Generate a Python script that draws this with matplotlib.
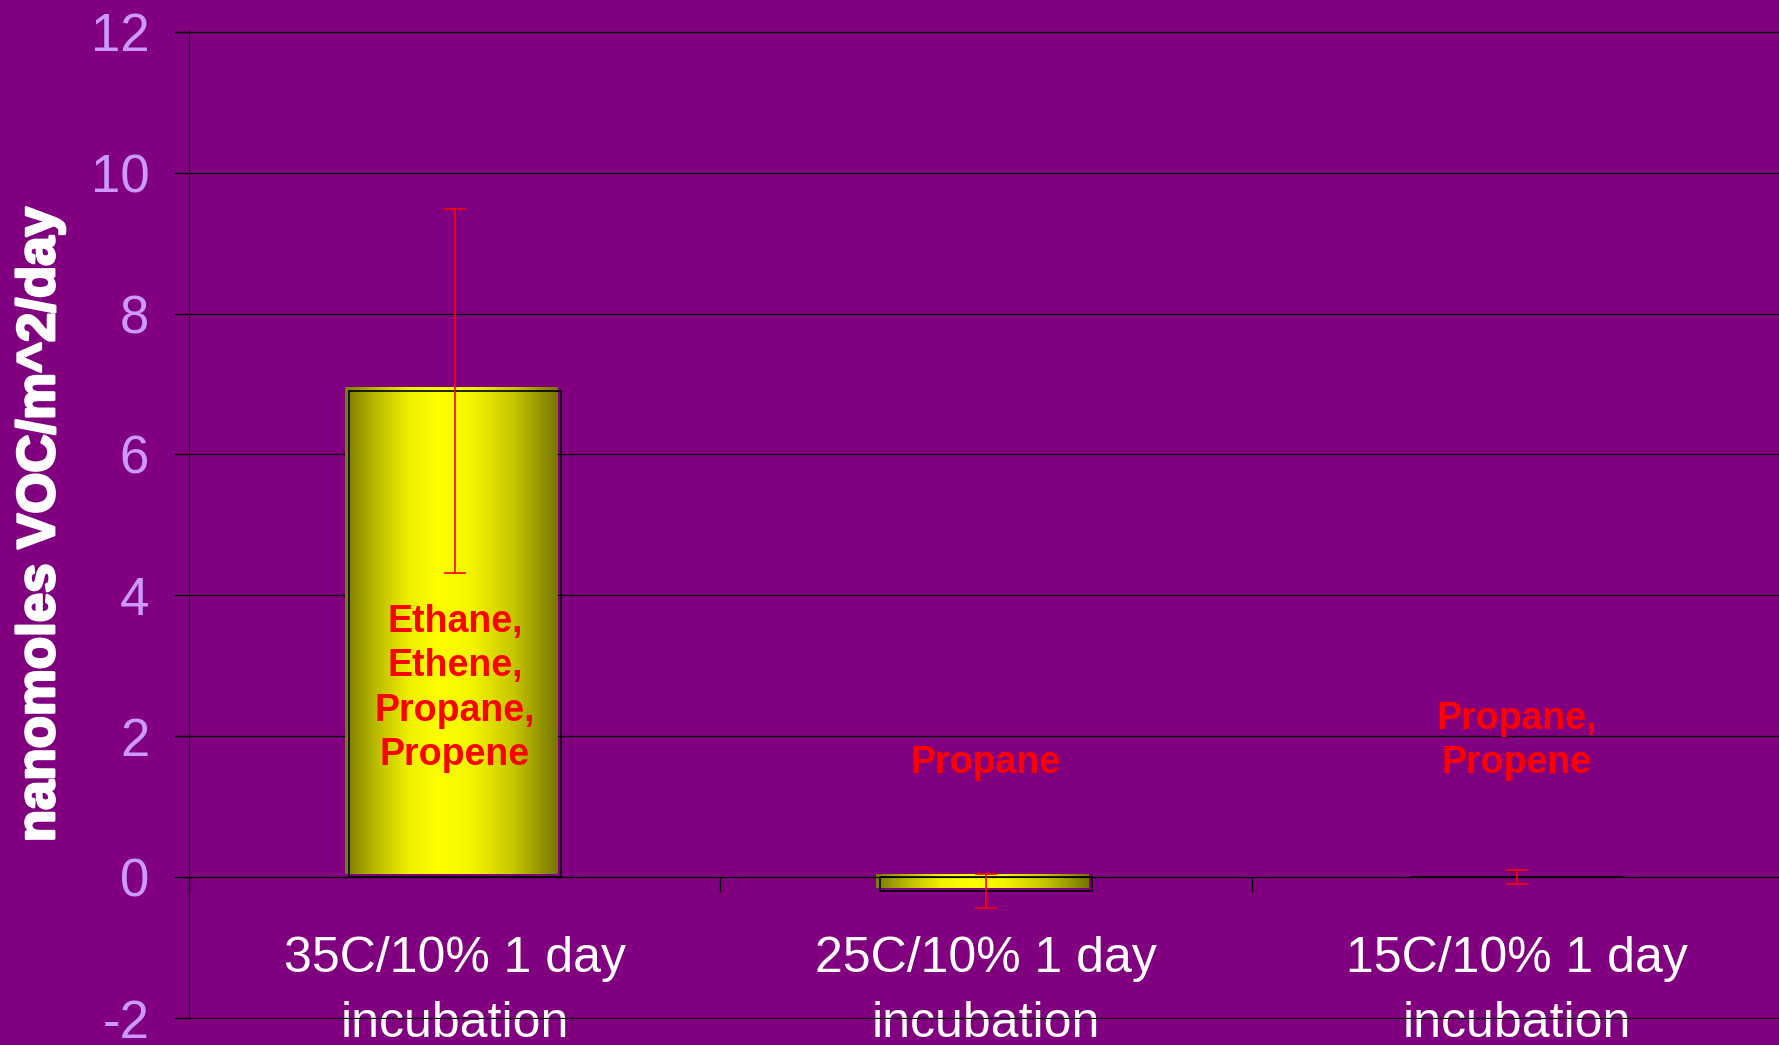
import numpy as np
import matplotlib
matplotlib.use('Agg')
import matplotlib.pyplot as plt
import matplotlib.transforms as mtransforms
import matplotlib.patheffects as pe
from matplotlib.colors import LinearSegmentedColormap

plt.rcParams['font.family'] = ['Liberation Sans', 'DejaVu Sans']
plt.rcParams['axes.unicode_minus'] = False

# data
categories = ['35C/10% 1 day\nincubation', '25C/10% 1 day\nincubation', '15C/10% 1 day\nincubation']
values = [6.9, -0.19, 0.0]
errors = [2.58, 0.24, 0.10]
compounds = ['Ethane,\nEthene,\nPropane,\nPropene', 'Propane', 'Propane,\nPropene']
label_y = [1.48, 1.36, 1.36]
yticks = [-2, 0, 2, 4, 6, 8, 10, 12]

purple = '#800080'
lavender = '#cc99ff'

fig = plt.figure(figsize=(17.79, 10.45), dpi=100, facecolor=purple)
ax = fig.add_axes([0.1065, 0.0249, 0.8955, 0.9455])
ax.set_facecolor(purple)

x = np.arange(len(categories))
width = 0.40

# olive -> yellow -> olive cylinder look
cyl = LinearSegmentedColormap.from_list('cyl', [
    (0.0, '#7b7b00'), (0.15, '#bdbd00'), (0.30, '#f0f000'), (0.45, '#ffff00'),
    (0.60, '#f4f400'), (0.80, '#c4c400'), (1.0, '#767600')])
grad = np.linspace(0, 1, 256).reshape(1, -1)

# face drawn a few px up/left of the black outline (shadow look)
shift = mtransforms.ScaledTranslation(-4 / 100, 3 / 100, fig.dpi_scale_trans)
face_tr = ax.transData + shift
for xi, v in zip(x, values):
    if abs(v) < 1e-9:
        continue
    ax.imshow(grad, extent=[xi - width / 2, xi + width / 2, min(0, v), max(0, v)],
              aspect='auto', cmap=cyl, zorder=1, transform=face_tr, interpolation='bilinear')

ax.bar(x, values, width=width, fill=False, edgecolor='black', linewidth=1.2, zorder=1.5)

ax.errorbar(x, values, yerr=errors, fmt='none', ecolor='red', elinewidth=1.2,
            capsize=8, capthick=1.2, zorder=4)

for xi, txt, ly in zip(x, compounds, label_y):
    ax.text(xi, ly, txt, ha='center', va='bottom', color='red', fontsize=27,
            fontweight='bold', linespacing=1.3, zorder=5)

ax.set_xlim(-0.5, 2.5)
ax.set_ylim(-2.01, 12.01)

# axes styling
ax.set_axisbelow(True)
ax.set_yticks(yticks)
ax.yaxis.grid(True, color='black', linewidth=0.9)
ax.tick_params(axis='y', colors='black', labelcolor=lavender, labelsize=38,
               length=11, width=1, pad=18)
for sp in ['top', 'right']:
    ax.spines[sp].set_visible(False)
ax.spines['left'].set_color('black')
ax.spines['bottom'].set_position(('data', 0))
ax.spines['bottom'].set_color('black')
ax.spines['bottom'].set_zorder(3)

ax.set_xticks(x)
ax.set_xticklabels(categories, linespacing=1.55)
ax.set_xticks([-0.5, 0.5, 1.5, 2.5], minor=True)
ax.tick_params(axis='x', which='major', length=0, labelsize=36, labelcolor='white', pad=42)
ax.tick_params(axis='x', which='minor', length=11, width=1, color='black')
for lab in ax.get_xticklabels():
    lab.set_clip_on(False)

fig.text(0.0225, 0.4976, 'nanomoles VOC/m^2/day', rotation=90, ha='center', va='center',
         color='white', fontsize=38, fontweight='bold',
         path_effects=[pe.withStroke(linewidth=2, foreground='white')])

fig.savefig('out.png', dpi=100, facecolor=purple)
